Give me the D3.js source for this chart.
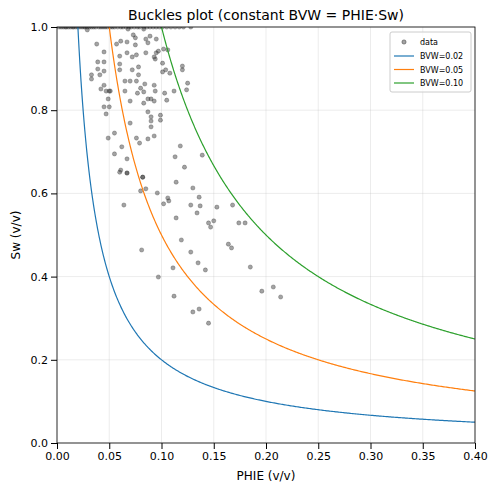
<!DOCTYPE html>
<html>
<head>
<meta charset="utf-8">
<script src="https://cdn.jsdelivr.net/npm/d3@7"></script>
<style>
  body { margin: 0; background: #fff; }
  text { font-family: "DejaVu Sans", sans-serif; }
</style>
</head>
<body>
<div id="chart"></div>
<script>
const width = 498, height = 492;
const margin = {left: 57, top: 27, right: 23, bottom: 49};

// scatter data
const phie = [.038,.045,.039,.045,.039,.045,.033,.033,.041,.045,.042,.047,.050,.049,.045,.050,.047,.049,.055,.055,
  .060,.067,.067,.062,.070,.076,.079,.087,.093,.090,.090,.099,.099,.087,.082,.070,.083,.090,.093,.077,
  .080,.084,.093,.094,.103,.105,.112,.124,.125,.120,.120,.101,.104,.108,.101,.102,.106,.065,.070,.076,
  .078,.078,.072,.060,.060,.067,.072,.076,.085,.095,.097,.094,.057,.061,.067,.075,.075,.073,.085,.087,
  .089,.095,.083,.068,.029,.051,.060,.065,.083,.087,.090,.118,.113,.122,.139,.093,
  .061,.067,.082,.080,.085,.064,.096,.114,.130,.136,.128,.137,.134,.106,.107,.102,.114,.153,.168,.145,
  .150,.147,.174,.180,.119,.081,.128,.164,.167,.135,.142,.111,.185,.097,.196,.207,.214,.112,.130,.136,.145,
  .002,.006,.009,.013,.016,.020,.024,.027,.031,.035,.040,.044,.048,.053,.058,.063,.069,.074,.079,.086,.092,.098,.105,.113,.121,.128,
  .004,.008,.011,.015,.018,.022,.026,.029,.033,.037,.042,.046,.051,.055,.061,.066,.071,.077,.083,.089,.095,.101,.109,.117];
const sw = [.959,.940,.916,.916,.899,.894,.885,.875,.885,.860,.851,.846,.846,.827,.808,.808,.791,.733,.745,.695,
  .651,.649,.683,.712,.769,.733,.721,.731,.738,.760,.774,.788,.776,.796,.639,.822,.817,.827,.822,.841,
  .853,.863,.860,.846,.841,.824,.846,.849,.865,.897,.906,.913,.897,.889,.892,.947,.945,.870,.870,.870,
  .885,.904,.897,.897,.911,.938,.928,.933,.938,.938,.942,.923,.959,.966,.964,.957,.974,.981,.971,.962,
  .978,.971,.995,.995,.993,.846,.930,.846,.844,.827,.784,.714,.688,.663,.692,.928,
  .656,.649,.639,.606,.611,.572,.601,.627,.613,.591,.572,.570,.553,.589,.582,.575,.541,.567,.572,.529,
  .534,.519,.529,.529,.488,.464,.459,.478,.469,.433,.416,.421,.423,.399,.365,.375,.351,.353,.315,.322,.288,
  1,1,1,1,1,1,1,1,1,1,1,1,1,1,1,1,1,1,1,1,1,1,1,1,1,1,
  1,1,1,1,1,1,1,1,1,1,1,1,1,1,1,1,1,1,1,1,1,1,1,1];

const bvwValues = [0.02, 0.05, 0.10];
const bvwLabels = ["BVW=0.02", "BVW=0.05", "BVW=0.10"];
const bvwColors = ["#1f77b4", "#ff7f0e", "#2ca02c"];
const xTicks = [0, .05, .1, .15, .2, .25, .3, .35, .4];
const yTicks = [0, .2, .4, .6, .8, 1];

const x = d3.scaleLinear().domain([0, 0.4]).range([margin.left, width - margin.right]);
const y = d3.scaleLinear().domain([0, 1]).range([height - margin.bottom, margin.top]);

const svg = d3.select("#chart").append("svg")
    .attr("width", width)
    .attr("height", height);

svg.append("defs").append("clipPath").attr("id", "clip")
  .append("rect")
    .attr("x", margin.left).attr("y", margin.top)
    .attr("width", x(0.4) - x(0)).attr("height", y(0) - y(1));

// grid
svg.append("g").selectAll("line").data(xTicks).enter().append("line")
    .attr("x1", d => x(d)).attr("x2", d => x(d))
    .attr("y1", y(0)).attr("y2", y(1))
    .attr("stroke", "#b0b0b0").attr("stroke-opacity", .3).attr("stroke-width", .8);
svg.append("g").selectAll("line").data(yTicks).enter().append("line")
    .attr("x1", x(0)).attr("x2", x(0.4))
    .attr("y1", d => y(d)).attr("y2", d => y(d))
    .attr("stroke", "#b0b0b0").attr("stroke-opacity", .3).attr("stroke-width", .8);

const plot = svg.append("g").attr("clip-path", "url(#clip)");

plot.selectAll("circle").data(phie).enter().append("circle")
    .attr("cx", d => x(d))
    .attr("cy", (d, i) => y(sw[i]))
    .attr("r", 2.1)
    .attr("fill", "#333")
    .attr("fill-opacity", .45)
    .attr("stroke", "#222")
    .attr("stroke-opacity", .45)
    .attr("stroke-width", .6);

const line = d3.line().x(d => x(d[0])).y(d => y(d[1]));
bvwValues.forEach((b, k) => {
    const pts = d3.range(0, 401).map(i => {
        const p = b + (0.4 - b) * Math.pow(i / 400, 1.5);
        return [p, b / p];
    });
    plot.append("path").datum(pts)
        .attr("d", line)
        .attr("fill", "none")
        .attr("stroke", bvwColors[k])
        .attr("stroke-width", 1.2);
});

// axes
const xAxis = svg.append("g")
    .attr("transform", `translate(0,${y(0)})`)
    .call(d3.axisBottom(x).tickValues(xTicks).tickFormat(d3.format(".2f")).tickSizeOuter(0));
const yAxis = svg.append("g")
    .attr("transform", `translate(${x(0)},0)`)
    .call(d3.axisLeft(y).tickValues(yTicks).tickFormat(d3.format(".1f")).tickSizeOuter(0));
[xAxis, yAxis].forEach(a => {
    a.selectAll("text").attr("font-size", 11).attr("fill", "#000")
        .attr("font-family", "DejaVu Sans");
    a.selectAll(".tick line").attr("stroke", "#000");
    a.select(".domain").attr("stroke", "none");
});
svg.append("rect")
    .attr("x", x(0)).attr("y", y(1))
    .attr("width", x(0.4) - x(0)).attr("height", y(0) - y(1))
    .attr("fill", "none").attr("stroke", "#000").attr("stroke-width", .8);

svg.append("text")
    .attr("x", (x(0) + x(0.4)) / 2).attr("y", 480)
    .attr("text-anchor", "middle").attr("font-size", 12)
    .text("PHIE (v/v)");
svg.append("text")
    .attr("transform", `translate(20,${(y(0) + y(1)) / 2}) rotate(-90)`)
    .attr("text-anchor", "middle").attr("font-size", 12)
    .text("Sw (v/v)");
svg.append("text")
    .attr("x", (x(0) + x(0.4)) / 2).attr("y", 20)
    .attr("text-anchor", "middle").attr("font-size", 14)
    .text("Buckles plot (constant BVW = PHIE·Sw)");

// legend
const lg = svg.append("g").attr("transform", "translate(390,32)");
lg.append("rect")
    .attr("width", 81).attr("height", 60).attr("rx", 2)
    .attr("fill", "#fff").attr("fill-opacity", .8)
    .attr("stroke", "#ccc");
lg.append("circle").attr("cx", 14).attr("cy", 10).attr("r", 2.1)
    .attr("fill", "#333").attr("fill-opacity", .45).attr("stroke", "#222").attr("stroke-opacity", .45);
lg.append("text").attr("x", 30).attr("y", 13).attr("font-size", 8).text("data");
bvwLabels.forEach((l, k) => {
    const yy = 24 + k * 13.5;
    lg.append("line").attr("x1", 4).attr("x2", 24).attr("y1", yy).attr("y2", yy)
        .attr("stroke", bvwColors[k]).attr("stroke-width", 1.2);
    lg.append("text").attr("x", 30).attr("y", yy + 3).attr("font-size", 8).text(l);
});
</script>
</body>
</html>
